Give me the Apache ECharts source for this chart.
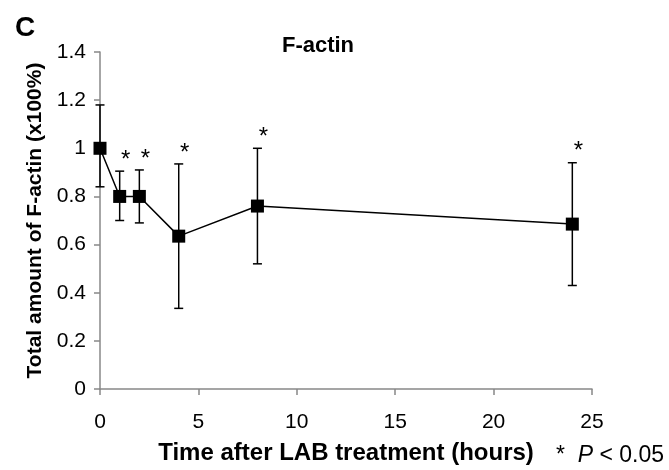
<!DOCTYPE html>
<html>
<head>
<meta charset="utf-8">
<script src="https://cdn.jsdelivr.net/npm/echarts@6/dist/echarts.min.js"></script>
<style>html,body{margin:0;padding:0;background:#fff}#c{width:669px;height:470px}</style>
</head>
<body>
<div id="c"></div>
<script>
const hours = [0, 1, 2, 4, 8, 24];
const means = [1.0, 0.80, 0.80, 0.635, 0.76, 0.685];
const upper = [1.18, 0.905, 0.91, 0.935, 1.0, 0.94];
const lower = [0.84, 0.70, 0.69, 0.335, 0.52, 0.43];
const significant = [false, true, true, true, true, true];
const xTicks = [0, 5, 10, 15, 20, 25];
const yTicks = [0, 0.2, 0.4, 0.6, 0.8, 1.0, 1.2, 1.4];

const FONT = '"Liberation Sans", Arial, sans-serif';
const chart = echarts.init(document.getElementById('c'));

const errData = hours.map((h, i) => [h, lower[i], upper[i], significant[i] ? 1 : 0]);
const lineData = hours.map((h, i) => [h, means[i]]);

chart.setOption({
  animation: false,
  textStyle: { fontFamily: FONT },
  title: [
    { text: 'F-actin', left: 313, top: 30, textAlign: 'center',
      textStyle: { fontFamily: FONT, fontWeight: 'bold', fontSize: 22, color: '#000' } },
    { text: 'C', left: 10, top: 9,
      textStyle: { fontFamily: FONT, fontWeight: 'bold', fontSize: 28, color: '#000' } }
  ],
  graphic: [
    { type: 'text', left: 556, top: 444,
      style: { text: '{a|*}  {b|P} < 0.05', fontFamily: FONT, fontSize: 23, fill: '#000',
        rich: { a: { fontSize: 23, fontFamily: FONT }, b: { fontStyle: 'italic', fontSize: 23, fontFamily: FONT } } } }
  ],
  grid: { left: 100, right: 77, top: 52, bottom: 78, containLabel: false },
  xAxis: {
    type: 'value', min: 0, max: 25, interval: 5,
    name: 'Time after LAB treatment (hours)', nameLocation: 'middle', nameGap: 52,
    nameTextStyle: { fontFamily: FONT, fontWeight: 'bold', fontSize: 24, color: '#000' },
    axisLine: { show: true, lineStyle: { color: '#888', width: 1.5 } },
    axisTick: { show: true, length: 6, lineStyle: { color: '#888', width: 1.5 } },
    axisLabel: { fontFamily: FONT, fontSize: 21, color: '#000', margin: 23 },
    splitLine: { show: false }
  },
  yAxis: {
    type: 'value', min: 0, max: 1.4, interval: 0.2,
    name: 'Total amount of F-actin (x100%)', nameLocation: 'middle', nameGap: 50,
    nameTextStyle: { fontFamily: FONT, fontWeight: 'bold', fontSize: 21, color: '#000' },
    axisLine: { show: true, lineStyle: { color: '#888', width: 1.5 } },
    axisTick: { show: true, length: 6, lineStyle: { color: '#888', width: 1.5 } },
    axisLabel: { fontFamily: FONT, fontSize: 21, color: '#000', margin: 14,
      formatter: v => String(parseFloat(v.toFixed(1))) },
    splitLine: { show: false }
  },
  series: [
    {
      type: 'custom',
      data: errData,
      z: 2,
      renderItem: (params, api) => {
        const x = api.value(0);
        const lo = api.coord([x, api.value(1)]);
        const hi = api.coord([x, api.value(2)]);
        const cap = 4.5;
        const style = { stroke: '#000', lineWidth: 1.5 };
        const children = [
          { type: 'line', shape: { x1: lo[0], y1: lo[1], x2: hi[0], y2: hi[1] }, style },
          { type: 'line', shape: { x1: lo[0] - cap, y1: lo[1], x2: lo[0] + cap, y2: lo[1] }, style },
          { type: 'line', shape: { x1: hi[0] - cap, y1: hi[1], x2: hi[0] + cap, y2: hi[1] }, style }
        ];
        if (api.value(3) === 1) {
          children.push({ type: 'text', x: hi[0] + 6, y: hi[1] - 11,
            style: { text: '*', fontFamily: FONT, fontSize: 24, fill: '#000', align: 'center', verticalAlign: 'middle' } });
        }
        return { type: 'group', children };
      }
    },
    {
      type: 'line',
      data: lineData,
      z: 3,
      symbol: 'rect',
      symbolSize: 13,
      lineStyle: { color: '#000', width: 1.5 },
      itemStyle: { color: '#000' }
    }
  ]
});
</script>
</body>
</html>
